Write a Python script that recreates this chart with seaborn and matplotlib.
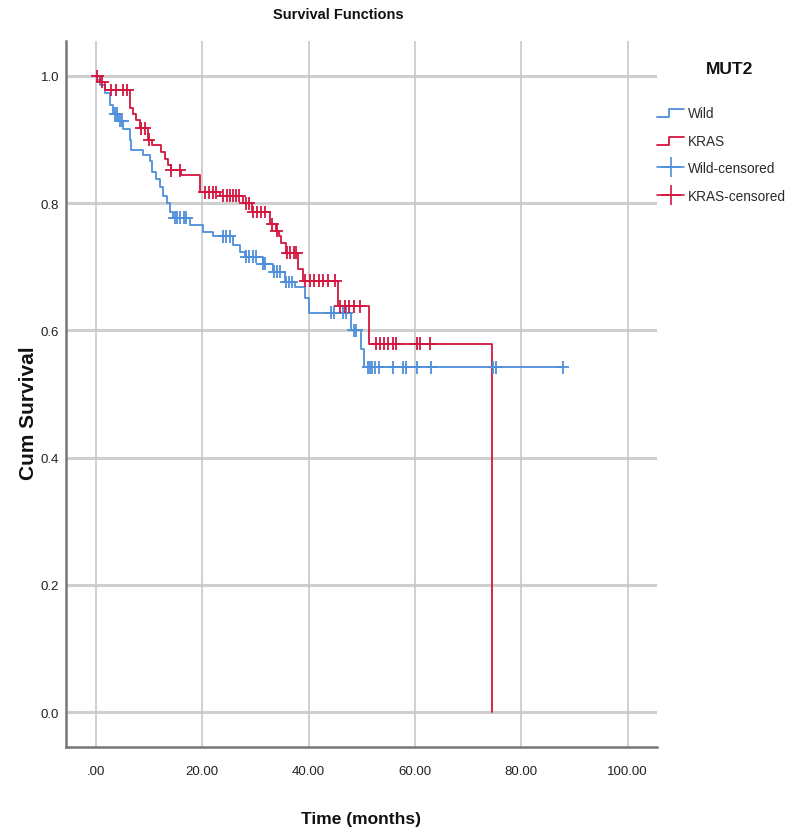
import numpy as np
import pandas as pd
import matplotlib
matplotlib.use("Agg")
import matplotlib.pyplot as plt
import seaborn as sns
from matplotlib.lines import Line2D
from matplotlib.legend_handler import HandlerBase

# Kaplan-Meier steps (months, survival after the step)
wild_times = [0, 0.2, 0.8, 1.7, 2.6, 3.3, 4.2, 5.1, 6.4, 6.7, 8.9, 10.2, 10.5, 11.4,
              12.0, 12.7, 13.3, 13.9, 14.5, 17.7, 20.2, 22.0, 25.8, 27.1, 28.0, 31.4,
              33.3, 35.6, 37.5, 39.3, 40.0, 48.0, 49.9, 50.5, 87.8]
wild_surv = [1.0, 0.994, 0.986, 0.973, 0.954, 0.941, 0.930, 0.917, 0.900, 0.883, 0.875,
             0.867, 0.849, 0.838, 0.825, 0.812, 0.800, 0.786, 0.777, 0.765, 0.754, 0.748,
             0.735, 0.724, 0.716, 0.705, 0.692, 0.676, 0.668, 0.651, 0.628, 0.600, 0.571,
             0.542, 0.542]
wild_censored = [3.6, 4.0, 4.6, 5.0, 14.8, 15.3, 15.8, 16.5, 17.0, 23.9, 24.5, 25.2,
                 28.3, 28.8, 29.5, 30.2, 31.4, 31.9, 33.5, 34.0, 34.6, 35.8, 36.3, 36.9,
                 44.2, 44.8, 46.5, 47.1, 48.5, 49.0, 51.2, 51.6, 52.0, 52.5, 53.2, 55.9,
                 57.8, 58.4, 60.3, 63.1, 74.7, 75.2, 87.8]

kras_times = [0, 0.8, 1.7, 6.4, 7.0, 7.6, 8.3, 9.8, 10.5, 12.3, 13.0, 13.6, 14.2, 16.0,
              19.5, 23.3, 27.7, 29.3, 32.7, 33.9, 34.4, 34.9, 35.8, 38.0, 39.0, 45.6,
              51.4, 74.4, 74.4]
kras_surv = [1.0, 0.991, 0.978, 0.949, 0.941, 0.931, 0.918, 0.900, 0.891, 0.880, 0.870,
             0.860, 0.852, 0.845, 0.817, 0.812, 0.800, 0.786, 0.767, 0.757, 0.748, 0.738,
             0.722, 0.697, 0.678, 0.638, 0.579, 0.579, 0.0]
kras_censored = [0.3, 1.2, 2.9, 3.8, 5.1, 5.9, 8.5, 9.2, 10.0, 14.2, 15.8, 20.5, 21.3,
                 22.0, 22.6, 23.9, 24.6, 25.3, 25.8, 26.4, 27.0, 28.2, 28.8, 29.6, 30.3,
                 31.0, 31.8, 33.2, 34.0, 36.0, 36.6, 37.2, 37.7, 39.4, 40.2, 41.0, 42.0,
                 42.8, 43.6, 45.0, 46.0, 46.8, 47.6, 48.5, 49.6, 52.6, 53.4, 54.2, 55.0,
                 55.8, 56.4, 60.3, 60.9, 62.8]

x_ticks = [0, 20, 40, 60, 80, 100]
x_labels = [".00", "20.00", "40.00", "60.00", "80.00", "100.00"]
y_ticks = [0.0, 0.2, 0.4, 0.6, 0.8, 1.0]

BLUE = "#4d8fdb"
RED = "#d31540"


def surv_at(times, surv, t):
    # value of the step function at time t
    idx = np.searchsorted(times[:-1], t, side="right") - 1
    return surv[idx]


sns.set_style("white")
plt.rcParams["font.family"] = ["Liberation Sans", "DejaVu Sans"]

fig = plt.figure(figsize=(7.86, 8.37), dpi=100)
ax = fig.add_axes([66 / 786, 89 / 837, (657 - 66) / 786, (748 - 42) / 837])

curves = pd.concat([
    pd.DataFrame({"time": wild_times, "surv": wild_surv, "group": "Wild"}),
    pd.DataFrame({"time": kras_times, "surv": kras_surv, "group": "KRAS"}),
])
sns.lineplot(data=curves, x="time", y="surv", hue="group", palette={"Wild": BLUE, "KRAS": RED},
             estimator=None, sort=False, drawstyle="steps-post", linewidth=1.3,
             legend=False, ax=ax, zorder=3)

wt, ws = np.array(wild_times), np.array(wild_surv)
kt, ks = np.array(kras_times), np.array(kras_surv)
cens = pd.concat([
    pd.DataFrame({"time": wild_censored,
                  "surv": [surv_at(wt, ws, t) for t in wild_censored], "group": "Wild"}),
    pd.DataFrame({"time": kras_censored,
                  "surv": [surv_at(kt, ks, t) for t in kras_censored], "group": "KRAS"}),
])
sns.scatterplot(data=cens, x="time", y="surv", hue="group", palette={"Wild": BLUE, "KRAS": RED},
                marker="+", s=85, linewidth=1.3, legend=False, ax=ax, zorder=4)

ax.set_xlim(-5.6, 105.5)
ax.set_ylim(-0.055, 1.055)
ax.set_xticks(x_ticks)
ax.set_xticklabels(x_labels)
ax.set_yticks(y_ticks)
ax.set_yticklabels([f"{v:.1f}" for v in y_ticks])
ax.tick_params(axis="both", length=0, labelsize=9.5, colors="#222222")
ax.tick_params(axis="x", pad=13)
ax.tick_params(axis="y", pad=5)
ax.set_xlabel("")
ax.set_ylabel("")

for v in y_ticks:
    ax.axhline(v, color="#cfcfcf", linewidth=2.2, zorder=1)
for v in x_ticks:
    ax.axvline(v, color="#c4c4c4", linewidth=1.1, zorder=1)

for side in ["top", "right"]:
    ax.spines[side].set_visible(False)
for side in ["left", "bottom"]:
    ax.spines[side].set_color("#777777")
    ax.spines[side].set_linewidth(1.8)

fig.text(361 / 786, 1 - 820 / 837, "Time (months)", ha="center", va="center",
         fontsize=12.5, fontweight="bold", color="#111111")
fig.text(28 / 786, 1 - 413 / 837, "Cum Survival", ha="center", va="center", rotation=90,
         fontsize=15, fontweight="bold", color="#111111")
fig.text(338 / 786, 1 - 15 / 837, "Survival Functions", ha="center", va="center",
         fontsize=10.5, fontweight="bold", color="#111111")
fig.text(730 / 786, 1 - 70 / 837, "MUT2", ha="center", va="center",
         fontsize=12.5, fontweight="bold", color="#111111")


class StepHandler(HandlerBase):
    def create_artists(self, legend, orig, xd, yd, w, h, fontsize, trans):
        xs = [xd, xd + w * 0.45, xd + w * 0.45, xd + w]
        ys = [yd - h * 0.05, yd - h * 0.05, yd + h * 0.85, yd + h * 0.85]
        ln = Line2D(xs, ys, color=orig.get_color(), linewidth=1.3, transform=trans)
        return [ln]


handles = [
    Line2D([], [], color=BLUE),
    Line2D([], [], color=RED),
    Line2D([0], [0], color=BLUE, marker="+", markersize=14, mew=1.2, linewidth=1.2),
    Line2D([0], [0], color=RED, marker="+", markersize=14, mew=1.2, linewidth=1.2),
]
labels = ["Wild", "KRAS", "Wild-censored", "KRAS-censored"]
leg = fig.legend(handles, labels, loc="upper left",
                 bbox_to_anchor=(657 / 786, 1 - 107 / 837), frameon=False,
                 fontsize=9.8, handlelength=2.0, handletextpad=0.25,
                 labelspacing=1.0, borderaxespad=0, borderpad=0,
                 handler_map={handles[0]: StepHandler(), handles[1]: StepHandler()})
for t in leg.get_texts():
    t.set_color("#2a2a2a")

fig.savefig("out.png", dpi=100)
